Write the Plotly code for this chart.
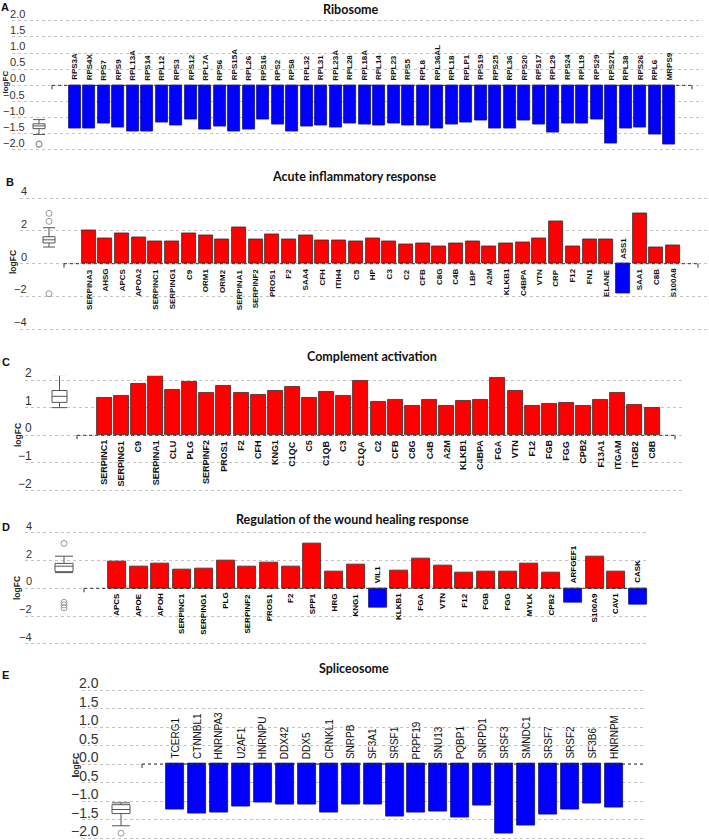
import plotly.graph_objects as go

# ---------------- data: logFC per gene ----------------
ribosome_genes = ['RPS3A', 'RPS4X', 'RPS7', 'RPS9', 'RPL13A', 'RPS14', 'RPL12', 'RPS3', 'RPS12', 'RPL7A',
                  'RPS6', 'RPS15A', 'RPL26', 'RPS16', 'RPS2', 'RPS8', 'RPL32', 'RPL31', 'RPL23A', 'RPL28',
                  'RPL18A', 'RPL14', 'RPL23', 'RPS5', 'RPL8', 'RPL36AL', 'RPL18', 'RPLP1', 'RPS19', 'RPS25',
                  'RPL36', 'RPS20', 'RPS17', 'RPL29', 'RPS24', 'RPL19', 'RPS29', 'RPS27L', 'RPL38', 'RPS26',
                  'RPL6', 'MRPS9']
ribosome_fc = [-1.33, -1.34, -1.19, -1.29, -1.43, -1.44, -1.14, -1.25, -1.06, -1.36,
               -1.26, -1.42, -1.38, -1.06, -1.20, -1.43, -1.27, -1.23, -1.29, -1.19,
               -1.22, -1.25, -1.18, -1.25, -1.25, -1.33, -1.21, -1.15, -1.08, -1.32,
               -1.33, -1.08, -1.20, -1.47, -1.19, -1.17, -1.07, -1.81, -1.33, -1.30,
               -1.52, -1.83]

acute_genes = ['SERPINA3', 'AHSG', 'APCS', 'APOA2', 'SERPINC1', 'SERPING1', 'C9', 'ORM1', 'ORM2', 'SERPINA1',
               'SERPINF2', 'PROS1', 'F2', 'SAA4', 'CFH', 'ITIH4', 'C5', 'HP', 'C3', 'C2',
               'CFB', 'C8G', 'C4B', 'LBP', 'A2M', 'KLKB1', 'C4BPA', 'VTN', 'CRP', 'F12',
               'FN1', 'ELANE', 'ASS1', 'SAA1', 'C8B', 'S100A8']
acute_fc = [2.04, 1.55, 1.84, 1.59, 1.35, 1.39, 1.86, 1.71, 1.51, 2.20,
            1.51, 1.78, 1.51, 1.71, 1.45, 1.41, 1.35, 1.53, 1.39, 1.18,
            1.27, 1.08, 1.27, 1.35, 1.08, 1.22, 1.29, 1.57, 2.59, 1.06,
            1.51, 1.47, -1.84, 3.08, 1.02, 1.10]

complement_genes = ['SERPINC1', 'SERPING1', 'C9', 'SERPINA1', 'CLU', 'PLG', 'SERPINF2', 'PROS1', 'F2', 'CFH',
                    'KNG1', 'C1QC', 'C5', 'C1QB', 'C3', 'C1QA', 'C2', 'CFB', 'C8G', 'C4B',
                    'A2M', 'KLKB1', 'C4BPA', 'FGA', 'VTN', 'F12', 'FGB', 'FGG', 'CPB2', 'F13A1',
                    'ITGAM', 'ITGB2', 'C8B']
complement_fc = [1.35, 1.41, 1.87, 2.19, 1.65, 1.95, 1.52, 1.78, 1.52, 1.47,
                 1.61, 1.75, 1.35, 1.58, 1.41, 1.96, 1.20, 1.27, 1.07, 1.27,
                 1.07, 1.24, 1.29, 2.06, 1.59, 1.06, 1.12, 1.16, 1.07, 1.29,
                 1.52, 1.10, 1.00]

wound_genes = ['APCS', 'APOE', 'APOH', 'SERPINC1', 'SERPING1', 'PLG', 'SERPINF2', 'PROS1', 'F2', 'SPP1',
               'HRG', 'KNG1', 'VIL1', 'KLKB1', 'FGA', 'VTN', 'F12', 'FGB', 'FGG', 'MYLK',
               'CPB2', 'ARFGEF1', 'S100A9', 'CAV1', 'CASK']
wound_fc = [1.90, 1.59, 1.78, 1.37, 1.45, 2.00, 1.59, 1.83, 1.59, 3.23,
            1.20, 1.69, -1.40, 1.30, 2.12, 1.64, 1.13, 1.18, 1.20, 1.76,
            1.13, -1.01, 2.31, 1.20, -1.20]

splice_genes = ['TCERG1', 'CTNNBL1', 'HNRNPA3', 'U2AF1', 'HNRNPU', 'DDX42', 'DDX5', 'CRNKL1', 'SNRPB', 'SF3A1',
                'SRSF1', 'PRPF19', 'SNU13', 'PQBP1', 'SNRPD1', 'SRSF3', 'SMNDC1', 'SRSF7', 'SRSF2', 'SF3B6',
                'HNRNPM']
splice_fc = [-1.22, -1.33, -1.32, -1.16, -1.05, -1.10, -1.10, -1.30, -1.10, -1.09,
             -1.41, -1.32, -1.29, -1.44, -1.11, -1.87, -1.67, -1.37, -1.23, -1.07,
             -1.17]

W, H = 709, 840
RED = '#FF0000'
BLUE = '#0000FF'
GRID = '#c4c4c4'
ARIAL = 'Arial, Liberation Sans, sans-serif'
NARROW = 'Liberation Sans Narrow, Arial Narrow, Liberation Sans, sans-serif'

# panel geometry in pixels (gridline span, first/last bar centre, box centre, baseline)
PANELS = [
    dict(letter='A', title='Ribosome', genes=ribosome_genes, fc=ribosome_fc,
         L=12, R=703, c0=75, c1=669, box=39, box_w=12, bar_w=12, base=(52, 692), end_tick=True,
         ytop=(2.0, 20.7), ybot=(-2.0, 150.0), step=0.5, fmt='{:.1f}', pad=0.1, tick_right=27,
         tickfont=dict(family=NARROW, size=11, color='#333'),
         labfont=dict(family=ARIAL, size=8, color='#111', weight='bold'),
         title_xy=(351, 10), letter_xy=(5, 7), logfc_xy=(5.5, 82), logfc_size=8),
    dict(letter='B', title='Acute inflammatory response', genes=acute_genes, fc=acute_fc,
         L=20, R=708, c0=88.7, c1=673, box=49, box_w=12, bar_w=14, base=(64, 698), end_tick=True,
         ytop=(4, 198.3), ybot=(-4, 329.1), step=2, fmt='{:.0f}', pad=0.3, tick_right=29,
         tickfont=dict(family=NARROW, size=11, color='#333'),
         labfont=dict(family=ARIAL, size=8, color='#111', weight='bold'),
         title_xy=(354, 176), letter_xy=(10, 182), logfc_xy=(13, 262), logfc_size=8.5),
    dict(letter='C', title='Complement activation', genes=complement_genes, fc=complement_fc,
         L=25, R=682, c0=104, c1=652, box=59.5, box_w=15, bar_w=15, base=(77, 675), end_tick=True,
         ytop=(2, 380), ybot=(-2, 490.6), step=1, fmt='{:.0f}', pad=0.15, tick_right=34,
         tickfont=dict(family=NARROW, size=12, color='#333'),
         labfont=dict(family=ARIAL, size=9, color='#111', weight='bold'),
         title_xy=(372, 356), letter_xy=(6, 362), logfc_xy=(18, 435), logfc_size=8.5),
    dict(letter='D', title='Regulation of the wound healing response', genes=wound_genes, fc=wound_fc,
         L=25, R=648, c0=117, c1=638, box=64, box_w=18, bar_w=18, base=(84, 647), end_tick=False,
         ytop=(4, 532.7), ybot=(-4, 643.9), step=2, fmt='{:.0f}', pad=0.3, tick_right=34,
         tickfont=dict(family=NARROW, size=11, color='#333'),
         labfont=dict(family=NARROW, size=8, color='#000', weight='bold'),
         title_xy=(352, 519), letter_xy=(6, 527), logfc_xy=(17, 588), logfc_size=8.5),
    dict(letter='E', title='Spliceosome', genes=splice_genes, fc=splice_fc,
         L=82, R=645, c0=175, c1=614, box=121, box_w=18, bar_w=18, base=(142, 645), end_tick=False,
         ytop=(2.0, 690), ybot=(-2.0, 838), step=0.5, fmt='{:.1f}', pad=0.04, tick_right=101,
         tickfont=dict(family=NARROW, size=14, color='#333'),
         labfont=dict(family=ARIAL, size=10, color='#111'),
         title_xy=(354, 668), letter_xy=(5, 675), logfc_xy=(76, 765), logfc_size=8.5),
]

fig = go.Figure()
layout = dict(annotations=[], shapes=[])

for k, pn in enumerate(PANELS, start=1):
    xa = 'x' if k == 1 else f'x{k}'
    ya = 'y' if k == 1 else f'y{k}'
    genes, fc = pn['genes'], pn['fc']
    n = len(genes)
    pitch = (pn['c1'] - pn['c0']) / (n - 1)

    def to_x(px):
        return (px - pn['c0']) / pitch

    # y mapping
    (vt, pt), (vb, pb) = pn['ytop'], pn['ybot']
    upp = (pb - pt) / (vt - vb)
    top_px = pt - pn['pad'] * upp
    bot_px = pb + pn['pad'] * upp

    fig.add_trace(go.Bar(
        x=list(range(n)), y=fc, width=pn['bar_w'] / pitch,
        marker=dict(color=[RED if v > 0 else BLUE for v in fc],
                    line=dict(color=['#3a2a2a' if v > 0 else '#10107a' for v in fc], width=0.8)),
        xaxis=xa, yaxis=ya, showlegend=False, hoverinfo='skip'))

    fig.add_trace(go.Box(
        y=fc, x0=to_x(pn['box']), width=pn['box_w'] / pitch, boxpoints='outliers',
        fillcolor='white', line=dict(color='#555555', width=1), whiskerwidth=1,
        marker=dict(symbol='circle-open', color='#9a9a9a', size=6, line=dict(width=1)),
        xaxis=xa, yaxis=ya, showlegend=False, hoverinfo='skip'))

    nticks = int(round((vt - vb) / pn['step']))
    tickvals = [vb + i * pn['step'] for i in range(nticks + 1)]

    layout['xaxis' if k == 1 else f'xaxis{k}'] = dict(
        domain=[pn['L'] / W, pn['R'] / W], range=[to_x(pn['L']), to_x(pn['R'])],
        anchor=ya, showgrid=False, zeroline=False, showticklabels=False, ticks='', showline=False)
    layout['yaxis' if k == 1 else f'yaxis{k}'] = dict(
        domain=[1 - bot_px / H, 1 - top_px / H], range=[vb - pn['pad'], vt + pn['pad']],
        anchor=xa, tickvals=tickvals, showticklabels=False,
        showgrid=True, gridcolor=GRID, griddash='dot', gridwidth=1,
        zeroline=False, showline=False, ticks='')

    # tick labels sit just above their gridlines, as in the source figure
    for tv in tickvals:
        layout['annotations'].append(dict(
            x=pn['tick_right'] / W, y=tv, xref='paper', yref=ya,
            text=pn['fmt'].format(tv).replace('-', '\u2212'), showarrow=False,
            xanchor='right', yanchor='middle', yshift=7, font=pn['tickfont']))

    # gene labels on the opposite side of the zero line
    for i, (g, v) in enumerate(zip(genes, fc)):
        layout['annotations'].append(dict(
            x=i, y=0, xref=xa, yref=ya, text=g, textangle=-90, showarrow=False,
            xanchor='center', yanchor='top' if v > 0 else 'bottom',
            yshift=-3 if v > 0 else 3, font=pn['labfont']))

    # dotted baseline with small end ticks
    b0, b1 = to_x(pn['base'][0]), to_x(pn['base'][1])
    layout['shapes'].append(dict(type='line', xref=xa, yref=ya, x0=b0, x1=b1, y0=0, y1=0,
                                 line=dict(color='#333333', width=1, dash='dot')))
    tick_xs = [b0, b1] if pn['end_tick'] else [b0]
    for tx in tick_xs:
        layout['shapes'].append(dict(type='line', xref=xa, yref=ya, x0=tx, x1=tx,
                                     ysizemode='pixel', yanchor=0, y0=0, y1=-4,
                                     line=dict(color='#333333', width=1)))

    # titles, panel letters, axis titles
    tx, ty = pn['title_xy']
    layout['annotations'].append(dict(
        x=tx / W, y=1 - ty / H, xref='paper', yref='paper', text=f'<b>{pn["title"]}</b>',
        showarrow=False, xanchor='center', yanchor='middle',
        font=dict(family='Lato, Open Sans, sans-serif', size=12.5, color='#111')))
    lx, ly = pn['letter_xy']
    layout['annotations'].append(dict(
        x=lx / W, y=1 - ly / H, xref='paper', yref='paper', text=f'<b>{pn["letter"]}</b>',
        showarrow=False, xanchor='center', yanchor='middle',
        font=dict(family=ARIAL, size=11, color='#111')))
    gx, gy = pn['logfc_xy']
    layout['annotations'].append(dict(
        x=gx / W, y=1 - gy / H, xref='paper', yref='paper', text='<b>logFC</b>', textangle=-90,
        showarrow=False, xanchor='center', yanchor='middle',
        font=dict(family=ARIAL, size=pn['logfc_size'], color='#222')))

fig.update_layout(
    width=W, height=H, margin=dict(l=0, r=0, t=0, b=0),
    paper_bgcolor='white', plot_bgcolor='white', showlegend=False, bargap=0,
    hovermode=False, **layout)

# drop the browser's default 8px body margin so the figure sits at the page origin
fig.write_html("out.html", config={'displayModeBar': False},
               post_script="document.body.style.margin='0';")
